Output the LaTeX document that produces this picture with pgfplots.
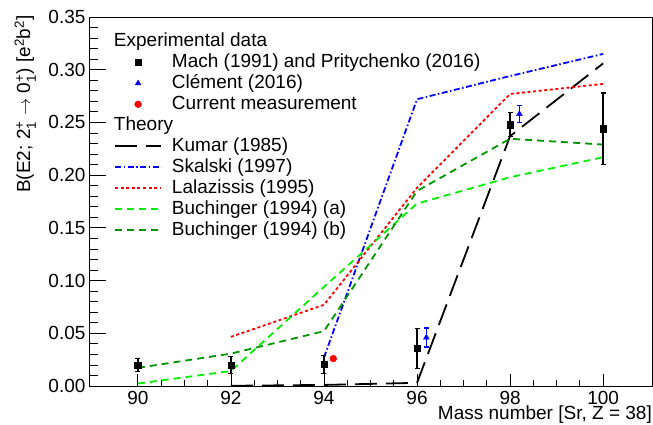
\documentclass[border=0pt]{standalone}
\usepackage{fontspec}
\setmainfont{Liberation Sans}
\usepackage{amsmath}
\usepackage{pgfplots}
\pgfplotsset{compat=1.18}
\definecolor{lgreen}{RGB}{0,240,0}
\definecolor{dgreen}{RGB}{0,150,0}
\begin{document}
\begin{tikzpicture}[font=\fontsize{19}{22}\selectfont]
\begin{axis}[
  set layers,
  scale only axis, width=563pt, height=369pt,
  at={(0,0)}, anchor=south west,
  xmin=88.95, xmax=101.05, ymin=0, ymax=0.35,
  xtick={90,92,94,96,98,100},
  xticklabels={90,92,94,96,98,100},
  ytick={0,0.05,0.10,0.15,0.20,0.25,0.30,0.35},
  yticklabels={0.00,0.05,0.10,0.15,0.20,0.25,0.30,0.35},
  minor x tick num=3, minor y tick num=4,
  xtick pos=bottom, ytick pos=left, tick align=inside,
  axis line style={line width=0.8pt},
  xtick style={line width=0.8pt, black, /pgfplots/major tick length=12pt, /pgfplots/minor tick length=6pt},
  ytick style={line width=0.8pt, black, /pgfplots/major tick length=17pt, /pgfplots/minor tick length=8.5pt},
  xticklabel style={yshift=-1.5pt},
  xlabel={Mass number [Sr, Z = 38]},
  xlabel style={at={(axis description cs:1,0)}, anchor=north east, inner sep=0pt, yshift=-20pt},
  ylabel={B(E2; 2$^{\text{+}}_{\text{1}}$ $\rightarrow$ 0$^{\text{+}}_{\text{1}}$) [e$^{\text{2}}$b$^{\text{2}}$]},
  ylabel style={at={(axis description cs:-0.0941,1.005)}, anchor=south east, inner sep=0pt},
  legend image code/.code={\draw[mark repeat=2,mark phase=2,#1] plot coordinates {(0pt,0pt) (23pt,0pt) (46pt,0pt)};},
  legend style={draw=none, fill=none, at={(axis description cs:0.0444,0.9632)}, anchor=north west,
    inner sep=0pt, column sep=8.75pt, row sep=0pt,
    nodes={inner sep=1.25pt, text height=14pt, text depth=4.5pt}},
  legend cell align=left,
]
% experimental
\addlegendimage{empty legend}\addlegendentry{\hspace*{-58pt}Experimental data}
\addplot[on layer=axis foreground, only marks, black, mark=square*, mark size=3.2pt,
  error bars/.cd, y dir=both, y explicit, error bar style={line width=1.3pt}, error mark options={rotate=90, line width=1.3pt, mark size=2.5pt}]
  coordinates {(90,0.0198) +- (0,0.006) (92,0.020) +- (0,0.008) (94,0.0204) +- (0,0.0085) (96,0.0358) +- (0,0.019) (98,0.248) +- (0,0.0115) (100,0.244) +- (0,0.034)};
\addlegendentry{Mach (1991) and Pritychenko (2016)}
\addplot[on layer=axis foreground, only marks, blue, mark=triangle*, mark size=3.3pt,
  error bars/.cd, y dir=both, y explicit, error bar style={line width=1.3pt}, error mark options={rotate=90, line width=1.3pt, mark size=2.5pt}]
  coordinates {(96.2,0.046) +- (0,0.009) (98.2,0.258) +- (0,0.008)};
\addlegendentry{Cl\'ement (2016)}
\addplot[on layer=axis foreground, only marks, red, mark=*, mark size=3.4pt] coordinates {(94.2,0.026)};
\addlegendentry{Current measurement}
% theory
\addlegendimage{empty legend}\addlegendentry{\hspace*{-58pt}Theory}
\addplot[black, line width=1.8pt, dash pattern=on 22pt off 9pt] coordinates {(92,0.0002) (94,0.001) (96,0.003) (98,0.237) (100,0.306)};
\addlegendentry{Kumar (1985)}
\addplot[blue, line width=1.8pt, dash pattern=on 6pt off 2.5pt on 1.5pt off 2.5pt] coordinates {(94,0.027) (96,0.272) (98,0.294) (100,0.315)};
\addlegendentry{Skalski (1997)}
\addplot[red, line width=1.8pt, dash pattern=on 3pt off 2.6pt] coordinates {(92,0.0466) (94,0.077) (96,0.188) (98,0.277) (100,0.2865)};
\addlegendentry{Lalazissis (1995)}
\addplot[lgreen, line width=1.8pt, dash pattern=on 7pt off 5pt] coordinates {(90,0.0023) (92,0.0142) (94,0.094) (96,0.173) (98,0.198) (100,0.217)};
\addlegendentry{Buchinger (1994) (a)}
\addplot[dgreen, line width=1.8pt, dash pattern=on 7pt off 5pt] coordinates {(90,0.0172) (92,0.0307) (94,0.052) (96,0.185) (98,0.2345) (100,0.229)};
\addlegendentry{Buchinger (1994) (b)}
\end{axis}
\pgfresetboundingbox
\path (-89pt,-39pt) rectangle (564pt,386pt);
\end{tikzpicture}
\end{document}
